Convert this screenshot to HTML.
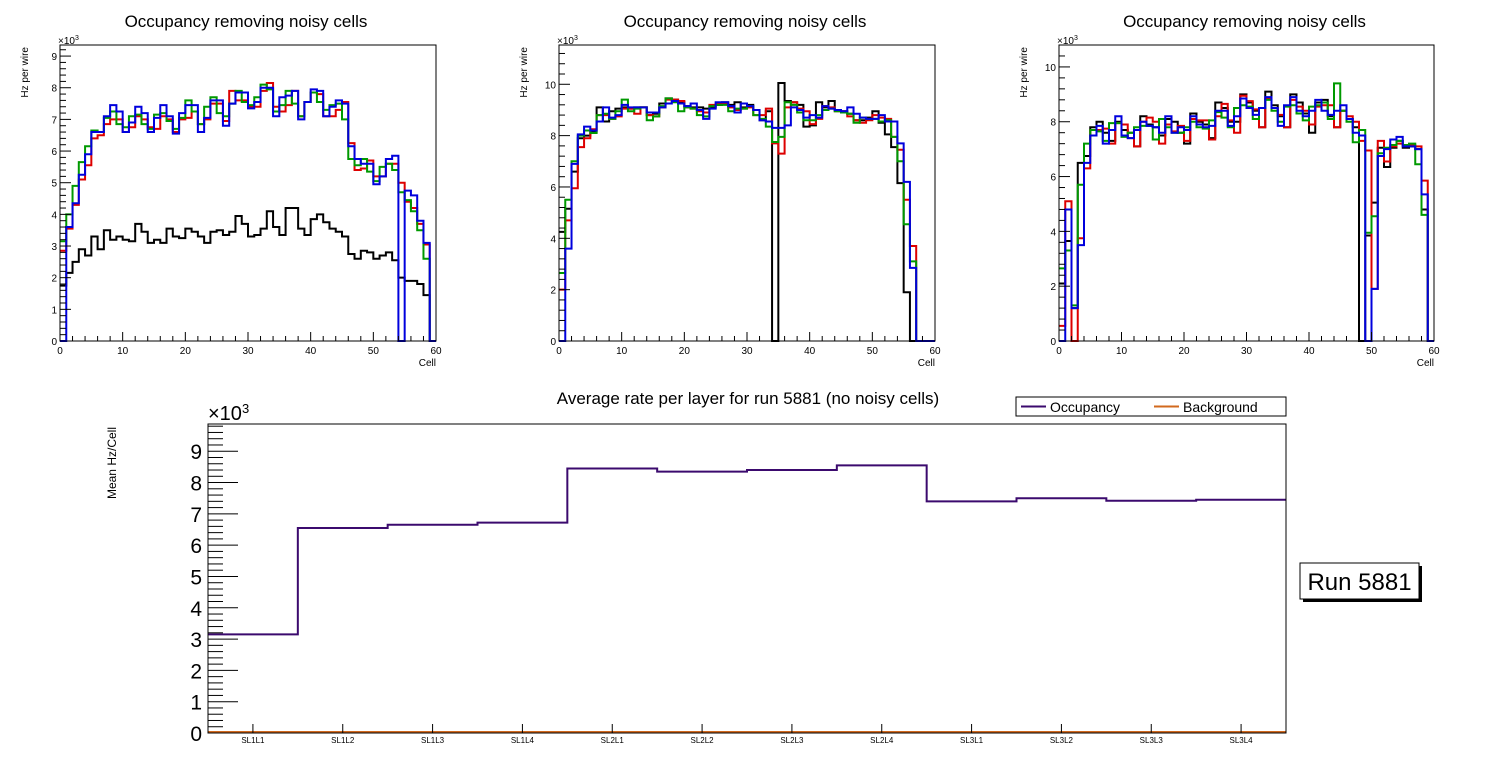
<!DOCTYPE html>
<html><head><meta charset="utf-8"><style>
body{margin:0;background:#fff;}
svg{display:block;font-family:"Liberation Sans",sans-serif;}
</style></head><body>
<svg id="c" width="1496" height="772" viewBox="0 0 1496 772"></svg>
<script>
// ---- data (values in units of 10^3 Hz) ----
const cells=[0,10,20,30,40,50,60];
const p1Black=[1.75,2.15,2.5,2.9,2.7,3.3,2.9,3.5,3.2,3.3,3.2,3.15,3.7,3.45,3.1,3.2,3.1,3.55,3.3,3.25,3.55,3.45,3.3,3.1,3.45,3.5,3.35,3.45,3.95,3.7,3.3,3.35,3.55,4.1,3.6,3.35,4.2,4.2,3.55,3.35,3.85,4.0,3.75,3.55,3.45,3.3,2.75,2.6,2.85,2.8,2.6,2.7,2.8,2.55,2.0,1.9,1.9,1.8,1.45,0];
const p1Red=[2.85,3.55,4.3,5.1,5.55,6.4,6.5,6.85,7.0,7.0,6.6,6.75,7.1,7.0,6.75,6.7,7.1,7.0,6.6,7.0,7.05,7.25,6.85,7.0,7.5,7.5,6.95,7.9,7.6,7.6,7.4,7.4,7.9,8.15,7.4,7.25,7.45,7.9,7.1,7.55,7.85,7.8,7.1,7.1,7.3,7.55,6.25,5.4,5.45,5.7,5.2,5.2,5.6,5.6,5.0,4.4,4.2,3.7,3.05,0];
const p1Green=[3.15,4.0,4.9,5.65,6.15,6.65,6.6,7.05,7.25,6.85,6.75,7.1,7.15,6.85,6.7,7.15,7.2,6.95,6.7,7.05,7.6,7.25,6.85,7.4,7.7,7.2,7.1,7.5,7.9,7.55,7.45,7.7,8.1,7.95,7.25,7.45,7.9,7.5,7.1,7.55,7.85,7.55,7.3,7.45,7.5,7.0,5.75,5.55,5.75,5.35,5.05,5.5,5.6,5.4,4.7,4.45,4.1,3.5,2.6,0];
const p1Blue=[0,3.6,4.35,5.25,5.9,6.6,6.6,7.1,7.45,7.25,6.6,6.9,7.4,7.2,6.6,7.05,7.45,7.1,6.55,7.2,7.45,7.45,6.6,7.05,7.6,7.6,6.8,7.5,7.85,7.85,7.35,7.55,8.0,8.0,7.1,7.7,7.75,7.9,7.0,7.55,7.95,7.9,7.1,7.4,7.6,7.5,6.15,5.75,5.6,5.6,4.95,5.2,5.75,5.85,0,4.75,4.6,3.8,3.1,0];
const p2Black=[4.25,5.15,6.6,7.9,8.0,8.15,9.1,8.55,8.95,9.05,9.1,9.05,9.1,9.1,8.8,8.85,9.25,9.45,9.4,9.3,9.15,9.1,9.1,9.05,9.1,9.2,9.3,9.2,9.3,9.1,9.2,9.0,8.6,8.95,0,10.05,9.35,9.3,9.2,8.35,8.4,9.3,9.1,9.35,9.0,8.95,8.85,8.6,8.6,8.7,8.95,8.5,8.05,7.55,6.15,1.9,0,0,0,0];
const p2Red=[2.0,4.7,5.95,7.55,7.9,8.25,8.8,8.8,8.65,8.75,9.05,9.05,8.85,9.1,8.8,8.75,9.1,9.4,9.4,9.35,9.1,9.05,8.95,8.9,9.2,9.25,9.25,9.1,9.0,9.05,9.1,8.8,8.8,9.05,7.7,7.3,9.1,9.3,9.05,8.95,8.45,8.65,9.15,9.1,8.95,8.95,8.75,8.6,8.5,8.6,8.8,8.7,8.65,7.95,7.45,5.5,3.7,0,0,0];
const p2Green=[2.65,5.5,7.0,8.0,8.2,8.1,8.8,8.85,8.65,8.95,9.4,8.95,9.05,9.1,8.6,8.75,9.15,9.45,9.3,8.95,9.1,9.05,8.8,8.75,9.15,9.2,9.2,8.95,9.05,9.05,9.15,8.8,8.65,8.35,7.75,7.95,9.3,9.2,8.9,8.6,8.6,8.8,9.0,9.05,8.95,8.9,8.85,8.5,8.7,8.65,8.65,8.55,8.6,7.95,7.0,4.55,3.1,0,0,0];
const p2Blue=[0,3.6,6.9,8.05,8.35,8.2,8.55,9.1,8.7,8.8,9.2,9.1,9.1,9.1,8.9,8.9,9.1,9.25,9.35,9.25,9.15,9.25,9.0,8.65,9.05,9.3,9.3,9.15,8.9,9.25,9.15,9.0,8.6,8.55,8.3,8.3,8.4,9.1,9.0,8.7,8.8,8.7,9.15,9.05,9.0,8.95,9.1,8.85,8.7,8.65,8.65,8.8,8.55,8.55,7.7,6.2,2.85,0,0,0];
const p3Black=[2.1,3.65,1.2,6.5,6.75,7.8,8.0,7.6,7.3,8.0,7.7,7.6,7.1,8.2,7.9,7.8,7.5,8.1,8.0,7.6,7.2,8.3,8.0,7.9,7.4,8.7,8.5,8.0,8.0,9.0,8.7,8.4,7.8,9.1,8.6,8.2,7.8,9.0,8.7,8.3,7.6,8.7,8.8,8.2,7.8,8.4,8.1,7.8,0,3.85,5.05,7.05,6.35,7.05,7.3,7.05,7.1,7.0,4.8,0];
const p3Red=[0.55,5.1,0,3.75,6.3,7.7,7.7,7.75,7.2,7.95,7.9,7.4,7.1,8.0,8.15,8.0,7.2,7.9,7.65,7.85,7.3,8.1,8.05,8.05,7.35,8.2,8.65,8.05,7.6,8.95,8.75,8.45,7.8,8.85,8.5,8.25,7.8,8.8,8.55,8.4,7.9,8.55,8.6,8.6,7.8,8.4,8.2,8.0,7.3,6.95,1.9,7.3,6.55,7.1,7.2,7.15,7.15,7.1,5.85,0];
const p3Green=[2.65,3.3,1.3,5.7,7.2,7.7,7.65,7.3,7.95,7.95,7.45,7.6,7.8,7.85,7.85,7.35,8.1,7.8,7.6,7.6,7.8,8.0,7.8,7.75,8.05,8.35,8.15,7.8,8.5,8.6,8.55,8.1,8.5,8.8,8.4,8.0,8.55,8.6,8.3,8.05,8.55,8.6,8.7,8.1,9.4,8.4,8.0,7.25,7.7,3.95,4.55,6.85,7.05,7.15,7.3,7.15,7.2,6.45,4.6,0];
const p3Blue=[0,4.8,1.2,3.5,6.5,7.5,7.85,7.2,7.7,8.2,7.5,7.4,7.7,8.0,7.85,7.8,7.6,8.2,7.6,7.8,7.7,8.2,7.9,7.8,7.85,8.4,8.4,7.85,8.2,8.85,8.5,8.25,8.5,8.9,8.5,7.85,8.6,8.9,8.4,8.2,8.4,8.8,8.4,8.25,8.4,8.6,8.1,7.6,7.5,0,1.9,6.75,7.0,7.35,7.45,7.1,7.1,7.0,5.35,0];
const layers=["SL1L1","SL1L2","SL1L3","SL1L4","SL2L1","SL2L2","SL2L3","SL2L4","SL3L1","SL3L2","SL3L3","SL3L4"];
const occupancy=[3.15,6.55,6.65,6.72,8.45,8.35,8.4,8.55,7.4,7.5,7.42,7.45];
const background=[0.03,0.03,0.03,0.03,0.03,0.03,0.03,0.03,0.03,0.03,0.03,0.03];

const NS="http://www.w3.org/2000/svg";
const svg=document.getElementById('c');
function mk(tag,attrs,parent){const e=document.createElementNS(NS,tag);for(const k in attrs)e.setAttribute(k,attrs[k]);(parent||svg).appendChild(e);return e;}
function txt(s,attrs,parent){const e=mk('text',attrs,parent);e.textContent=s;return e;}

function panel(id,x0,x1,yT,yB,ymax,major,minorPer,series){
  const g=mk('g',{});
  
  
  const X=v=>x0+(v/60)*(x1-x0);
  const Y=v=>yB-(v/ymax)*(yB-yT);
  const t=txt('Occupancy removing noisy cells',{x:(x0+x1)/2-2,y:27,'font-size':17,'text-anchor':'middle'},g);
  
  
  // series
  const cols=['#000','#d00','#090','#00d'];
  series.forEach((arr,si)=>{
    let d='M'+X(0)+','+Y(arr[0]);
    for(let i=0;i<arr.length;i++){ if(i>0) d+=' V'+Y(arr[i]); d+=' H'+X(i+1);}
    const p=mk('path',{d:d,fill:'none',stroke:cols[si],'stroke-width':2},g);
    
    
  });
  mk('rect',{x:x0,y:yT,width:x1-x0,height:yB-yT,fill:'none',stroke:'#000','stroke-width':1},g);
  // x ticks
  for(let v=0;v<=60;v+=2){const big=v%10==0;mk('line',{x1:X(v),x2:X(v),y1:yB,y2:yB-(big?9:5),stroke:'#000'},g);}
  cells.forEach(v=>{const l=txt(v,{x:X(v),y:yB+13,'font-size':10,'text-anchor':'middle'},g);
    });
  const xl=txt('Cell',{x:x1,y:yB+25,'font-size':10,'text-anchor':'end'},g);
  
  // y ticks
  const step=major/minorPer;
  for(let k=0;k*step<=ymax+1e-9;k++){const v=k*step;const big=k%minorPer==0;
    mk('line',{x1:x0,x2:x0+(big?11:6),y1:Y(v),y2:Y(v),stroke:'#000'},g);
    if(big){const l=txt(v,{x:x0-3,y:Y(v)+4,'font-size':10,'text-anchor':'end'},g);
      }}
  const e=txt('×10',{x:x0-2,y:yT-1,'font-size':10},g);
  mk('tspan',{dy:-4,'font-size':7},e).textContent='3';
  const yl=txt('Hz per wire',{x:0,y:0,'font-size':10,'text-anchor':'end',transform:`translate(${x0-32},${yT+2}) rotate(-90)`},g);
  
}
panel('panel-layer-1',60,436,45,341,9.35,1,5,[p1Black,p1Red,p1Green,p1Blue]);
panel('panel-layer-2',559,935,45,341,11.53,2,5,[p2Black,p2Red,p2Green,p2Blue]);
panel('panel-layer-3',1059,1434,45,341,10.8,2,5,[p3Black,p3Red,p3Green,p3Blue]);

// bottom chart
(function(){
  const g=mk('g',{});
  
  
  const x0=208,x1=1286,yT=424,yB=733,ymax=9.87;
  const bw=(x1-x0)/layers.length;
  const X=i=>x0+i*bw;
  const Y=v=>yB-(v/ymax)*(yB-yT);
  const t=txt('Average rate per layer for run 5881 (no noisy cells)',{x:748,y:404,'font-size':17,'text-anchor':'middle'},g);
  
  function step(arr,col,name){let d='M'+X(0)+','+Y(arr[0]);
    for(let i=0;i<arr.length;i++){if(i>0)d+=' V'+Y(arr[i]);d+=' H'+X(i+1);}
    const p=mk('path',{d:d,fill:'none',stroke:col,'stroke-width':2},g);
    }
  step(background,'#d2691e','background-line');
  step(occupancy,'#3b0a6e','occupancy-line');
  mk('rect',{x:x0,y:yT,width:x1-x0,height:yB-yT,fill:'none',stroke:'#000'},g);
  for(let k=0;k*0.2<=ymax;k++){const v=k*0.2;const big=k%5==0;
    mk('line',{x1:x0,x2:x0+(big?30:15),y1:Y(v),y2:Y(v),stroke:'#000'},g);
    if(big){const l=txt(Math.round(v),{x:x0-6,y:Y(v)+8,'font-size':21,'text-anchor':'end'},g);
      }}
  layers.forEach((s,i)=>{mk('line',{x1:X(i+0.5),x2:X(i+0.5),y1:yB,y2:yB-9,stroke:'#000'},g);
    const l=txt(s,{x:X(i+0.5),y:yB+10,'font-size':8,'text-anchor':'middle'},g);
    });
  const e=txt('×10',{x:x0,y:yT-4,'font-size':20},g);
  mk('tspan',{dy:-7,'font-size':13},e).textContent='3';
  const yl=txt('Mean Hz/Cell',{x:0,y:0,'font-size':12,'text-anchor':'end',transform:`translate(116,${yT+3}) rotate(-90)`},g);
  
  // legend
  const lg=mk('g',{},g);
  
  mk('rect',{x:1016,y:397,width:270,height:19,fill:'#fff',stroke:'#000'},lg);
  mk('line',{x1:1021,x2:1046,y1:406.5,y2:406.5,stroke:'#3b0a6e','stroke-width':2},lg);
  txt('Occupancy',{x:1050,y:412,'font-size':14},lg);
  mk('line',{x1:1154,x2:1179,y1:406.5,y2:406.5,stroke:'#d2691e','stroke-width':2},lg);
  txt('Background',{x:1183,y:412,'font-size':14},lg);
  // run box
  const rb=mk('g',{});
  
  mk('rect',{x:1303,y:566,width:119,height:36,fill:'#000'},rb);
  mk('rect',{x:1300,y:563,width:119,height:36,fill:'#fff',stroke:'#000'},rb);
  txt('Run 5881',{x:1359.5,y:590,'font-size':24,'text-anchor':'middle'},rb);
})();
</script>
</body></html>
